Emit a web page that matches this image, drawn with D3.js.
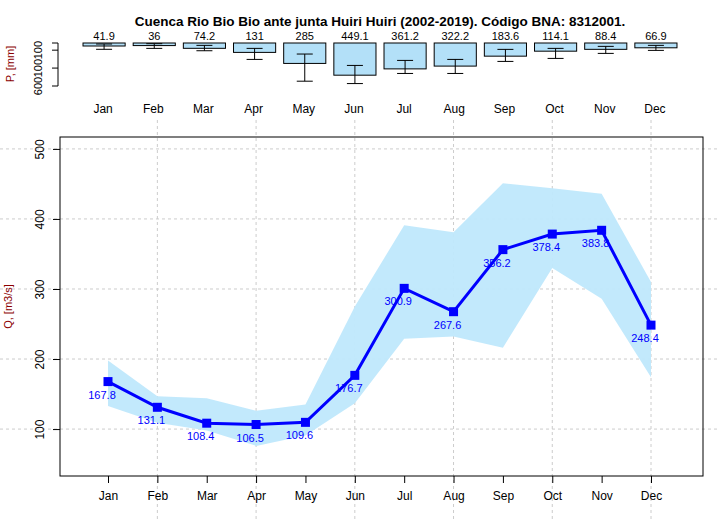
<!DOCTYPE html>
<html><head><meta charset="utf-8">
<script src="https://cdn.jsdelivr.net/npm/d3@7"></script>
<style>body{margin:0;background:#fff}text{font-family:"Liberation Sans",Arial,sans-serif}</style>
</head><body><div id="chart"></div>
<script>
var months = ["Jan","Feb","Mar","Apr","May","Jun","Jul","Aug","Sep","Oct","Nov","Dec"];
var flow = [167.8,131.1,108.4,106.5,109.6,176.7,300.9,267.6,356.2,378.4,383.8,248.4];
var flowHigh = [198,147,144,126,135,275,391,381,451,444,436,310];
var flowLow = [133,109,98,76,91,137,229,232,216,330,286,174];
var precip = [41.9,36,74.2,131,285,449.1,361.2,322.2,183.6,114.1,88.4,66.9];
var precipLow = [14,10,33,75,154,313,243,229,89,75,47,33];
var precipHigh = [88,75,108,229,533,566,425,425,257,215,145,103];
var qTicks = [100,200,300,400,500];

var W = 720, H = 520;
var svg = d3.select('#chart').append('svg').attr('width', W).attr('height', H);

// title
svg.append('text').attr('x', 380).attr('y', 26).attr('text-anchor', 'middle')
  .style('font-size', '13.5px').style('font-weight', 'bold')
  .text('Cuenca Rio Bio Bio ante junta Huiri Huiri (2002-2019). Código BNA: 8312001.');

// top panel: precipitation
var xb = d3.scaleBand().domain(months).range([79, 681]).paddingInner(0.16).paddingOuter(0.08);
var yp = d3.scaleLinear().domain([0, 600]).range([43, 86]);

var topG = svg.append('g');
topG.selectAll('rect').data(precip).enter().append('rect')
  .attr('x', function (d, i) { return xb(months[i]); })
  .attr('y', yp(0)).attr('width', xb.bandwidth())
  .attr('height', function (d) { return yp(d) - yp(0); })
  .style('fill', '#b3e0f8').style('stroke', '#000').style('stroke-width', 1);
topG.selectAll('.eb').data(months).enter().append('g').each(function (m, i) {
  var g = d3.select(this), cx = xb(m) + xb.bandwidth() / 2;
  g.append('line').attr('x1', cx).attr('x2', cx).attr('y1', yp(precipLow[i])).attr('y2', yp(precipHigh[i])).style('stroke', '#000');
  [precipLow[i], precipHigh[i]].forEach(function (v) {
    g.append('line').attr('x1', cx - 8).attr('x2', cx + 8).attr('y1', yp(v)).attr('y2', yp(v)).style('stroke', '#000');
  });
  g.append('text').attr('x', cx).attr('y', 40).attr('text-anchor', 'middle').style('font-size', '11px').text(precip[i]);
  g.append('text').attr('x', cx - 1).attr('y', 113).attr('text-anchor', 'middle').style('font-size', '12px').text(m);
});
topG.append('line').attr('x1', 58).attr('x2', 58).attr('y1', yp(0)).attr('y2', yp(600)).style('stroke', '#000');
[[0, ''], [100, '100'], [350, '100'], [600, '600']].forEach(function (t) {
  topG.append('line').attr('x1', 52).attr('x2', 58).attr('y1', yp(t[0])).attr('y2', yp(t[0])).style('stroke', '#000');
  if (t[1]) topG.append('text').attr('transform', 'translate(42,' + yp(t[0]) + ') rotate(-90)')
    .attr('text-anchor', 'middle').style('font-size', '11px').text(t[1]);
});
svg.append('text').attr('transform', 'translate(14,64) rotate(-90)').attr('text-anchor', 'middle')
  .style('font-size', '11px').style('fill', '#8b0000').text('P, [mm]');

// main panel: flow
var L = 60, R = 703, T = 137, B = 476;
var x = d3.scalePoint().domain(months).range([108, 651]);
var y = d3.scaleLinear().domain([33, 517]).range([B, T]);

var grid = svg.append('g').style('stroke', '#ccc').style('stroke-dasharray', '3,3');
qTicks.forEach(function (t) { grid.append('line').attr('x1', 0).attr('x2', W).attr('y1', y(t)).attr('y2', y(t)); });
months.forEach(function (m, i) { if (i % 2 == 1) grid.append('line').attr('x1', x(m)).attr('x2', x(m)).attr('y1', 120).attr('y2', H); });

var area = d3.area().x(function (d, i) { return x(months[i]); })
  .y0(function (d, i) { return y(flowLow[i]); }).y1(function (d) { return y(d); });
svg.append('path').datum(flowHigh).attr('d', area).style('fill', '#bfe8fc').style('opacity', 0.95);

var line = d3.line().x(function (d, i) { return x(months[i]); }).y(function (d) { return y(d); });
svg.append('path').datum(flow).attr('d', line).style('fill', 'none').style('stroke', '#0000ff').style('stroke-width', 3);
svg.selectAll('.pt').data(flow).enter().append('rect')
  .attr('x', function (d, i) { return x(months[i]) - 4.5; }).attr('y', function (d) { return y(d) - 4.5; })
  .attr('width', 9).attr('height', 9).style('fill', '#0000ff');
svg.selectAll('.lb').data(flow).enter().append('text')
  .attr('x', function (d, i) { return x(months[i]) - 6; }).attr('y', function (d) { return y(d) + 17; })
  .attr('text-anchor', 'middle').style('font-size', '11px').style('fill', '#0000ff').text(function (d) { return d; });

svg.append('rect').attr('x', L).attr('y', T).attr('width', R - L).attr('height', B - T)
  .style('fill', 'none').style('stroke', '#000');

var xa = svg.append('g').attr('transform', 'translate(0,' + B + ')').call(d3.axisBottom(x).tickSize(7).tickPadding(8));
xa.select('.domain').remove();
xa.selectAll('text').style('font-size', '12px').style('fill', '#000').style('font-family', '"Liberation Sans",Arial,sans-serif');
var ya = svg.append('g').attr('transform', 'translate(' + L + ',0)').call(d3.axisLeft(y).tickValues(qTicks).tickSize(7));
ya.select('.domain').remove();
ya.selectAll('text').attr('transform', 'rotate(-90)').attr('x', 0).attr('y', -20).attr('dy', '0.35em')
  .style('text-anchor', 'middle').style('font-size', '12px').style('fill', '#000').style('font-family', '"Liberation Sans",Arial,sans-serif');
svg.append('text').attr('transform', 'translate(12,' + (T + B) / 2 + ') rotate(-90)').attr('text-anchor', 'middle')
  .style('font-size', '11px').style('fill', '#8b0000').text('Q, [m3/s]');
</script></body></html>
